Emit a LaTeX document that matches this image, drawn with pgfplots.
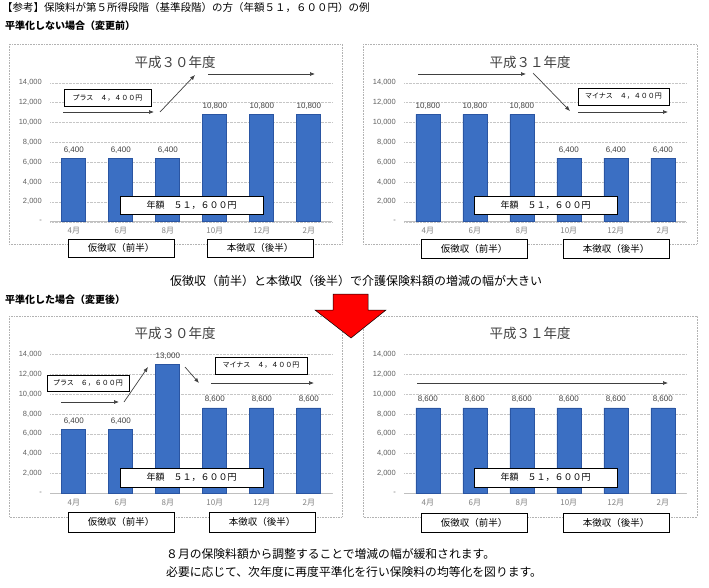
\documentclass[border=0pt]{standalone}
\usepackage{fontspec}
\setmainfont{Liberation Sans}
\newfontfamily\jp{Noto Sans CJK JP}
\usepackage{pgfplots}
\pgfplotsset{compat=1.18}
\usetikzlibrary{arrows.meta}
\definecolor{barF}{HTML}{3B6FC3}
\definecolor{barD}{HTML}{2A55A2}
\definecolor{tickc}{HTML}{606060}
\definecolor{valc}{HTML}{404040}
\definecolor{ttl}{HTML}{404040}

\pgfplotsset{panel/.style={
  scale only axis, width=282pt, height=139pt, anchor=south west,
  xmin=-0.5, xmax=5.5, ymin=0, ymax=14000,
  ybar, bar width=24pt,
  xtick={0,...,5}, xticklabels={4月,6月,8月,10月,12月,2月},
  ytick={0,2000,...,14000}, scaled y ticks=false,
  yticklabels={-,{2,000},{4,000},{6,000},{8,000},{10,000},{12,000},{14,000}},
  ymajorgrids, grid style={densely dotted, gray!45},
  major tick length=0pt,
  axis x line*=bottom, axis y line*=left,
  y axis line style={draw=none}, x axis line style={draw=gray!50, line width=0.8pt},
  xticklabel style={font=\jp\fontsize{8}{9}\selectfont, text=gray, yshift=-2pt},
  yticklabel style={font=\fontsize{7.5}{9}\selectfont, text=tickc, xshift=-5pt},
  /pgf/number format/.cd, 1000 sep={,}, assume math mode=true, /pgfplots/.cd,
  nodes near coords,
  nodes near coords style={font=\fontsize{8}{9}\selectfont, text=valc, yshift=1.5pt},
  clip=false,
}}
\tikzset{
  bx/.style={draw=black, line width=0.8pt, fill=white},
  ar/.style={-{Latex[length=5pt,width=4pt]}, line width=0.7pt, black!75},
  pb/.style={densely dotted, gray!60, line width=0.6pt},
  bars/.style={fill=barF, draw=barD, line width=0.6pt},
}
\begin{document}
\begin{tikzpicture}
\useasboundingbox (0pt,0pt) rectangle (709pt,-588pt);
\begin{scope}[x=1pt,y=-1pt]
\draw[pb] (9,44) rectangle (342,244);
\draw[pb] (363,44) rectangle (697,244);
\draw[pb] (9,316) rectangle (342,517);
\draw[pb] (363,316) rectangle (697,517);
\end{scope}

\begin{axis}[panel, at={(50.3pt,-221.7pt)}]
\addplot[bars] coordinates {(0,6400) (1,6400) (2,6400) (3,10800) (4,10800) (5,10800)};
\end{axis}
\begin{axis}[panel, at={(404.3pt,-221.7pt)}]
\addplot[bars] coordinates {(0,10800) (1,10800) (2,10800) (3,6400) (4,6400) (5,6400)};
\end{axis}
\begin{axis}[panel, at={(50.3pt,-493.3pt)}]
\addplot[bars] coordinates {(0,6400) (1,6400) (2,13000) (3,8600) (4,8600) (5,8600)};
\end{axis}
\begin{axis}[panel, at={(404.3pt,-493.3pt)}]
\addplot[bars] coordinates {(0,8600) (1,8600) (2,8600) (3,8600) (4,8600) (5,8600)};
\end{axis}

\begin{scope}[x=1pt,y=-1pt]
% header texts
\node[anchor=west, inner sep=0, font=\jp\fontsize{10.5}{12}\selectfont] at (2,8) {【参考】保険料が第５所得段階（基準段階）の方（年額５１，６００円）の例};
\node[anchor=west, inner sep=0, font=\jp\bfseries\fontsize{10}{12}\selectfont] at (5,26) {平準化しない場合（変更前）};
\node[font=\jp\fontsize{12}{14}\selectfont, inner sep=0] at (356,281) {仮徴収（前半）と本徴収（後半）で介護保険料額の増減の幅が大きい};
\node[anchor=west, inner sep=0, font=\jp\bfseries\fontsize{10}{12}\selectfont] at (5,300) {平準化した場合（変更後）};
\node[anchor=west, inner sep=0, font=\jp\fontsize{11.8}{14}\selectfont] at (166,554) {８月の保険料額から調整することで増減の幅が緩和されます。};
\node[anchor=west, inner sep=0, font=\jp\fontsize{11.8}{14}\selectfont] at (166,572) {必要に応じて、次年度に再度平準化を行い保険料の均等化を図ります。};

% panel titles
\node[font=\jp\fontsize{13.5}{15}\selectfont, text=ttl] at (175,62) {平成３０年度};
\node[font=\jp\fontsize{13.5}{15}\selectfont, text=ttl] at (530,62) {平成３１年度};
\node[font=\jp\fontsize{13.5}{15}\selectfont, text=ttl] at (175,333) {平成３０年度};
\node[font=\jp\fontsize{13.5}{15}\selectfont, text=ttl] at (530,333) {平成３１年度};

% panel 1
\draw[ar] (63,112) -- (154,112);
\draw[ar] (160,112) -- (195,75);
\draw[ar] (208,74) -- (315,74);
\draw[bx] (64,89) rectangle (151,106);
\node[font=\jp\fontsize{7}{8}\selectfont] at (107.5,97.5) {プラス　４，４００円};
\draw[bx] (120,196) rectangle (263,214);
\node[font=\jp\fontsize{9}{10}\selectfont] at (191.5,205) {年額　５１，６００円};
\draw[bx] (68,239) rectangle (174,257);
\node[font=\jp\fontsize{9.5}{10}\selectfont] at (121,248) {仮徴収（前半）};
\draw[bx] (207,239) rectangle (313,257);
\node[font=\jp\fontsize{9.5}{10}\selectfont] at (260,248) {本徴収（後半）};

% panel 2
\draw[ar] (418,74) -- (526,74);
\draw[ar] (533,73) -- (570,111);
\draw[ar] (578,112) -- (668,112);
\draw[bx] (578,88) rectangle (669,105);
\node[font=\jp\fontsize{7}{8}\selectfont] at (623.5,96.5) {マイナス　４，４００円};
\draw[bx] (474,196) rectangle (617,214);
\node[font=\jp\fontsize{9}{10}\selectfont] at (545.5,205) {年額　５１，６００円};
\draw[bx] (421,239) rectangle (527,258);
\node[font=\jp\fontsize{9.5}{10}\selectfont] at (474,248.5) {仮徴収（前半）};
\draw[bx] (563,239) rectangle (669,258);
\node[font=\jp\fontsize{9.5}{10}\selectfont] at (616,248.5) {本徴収（後半）};

% panel 3
\draw[ar] (61,402) -- (119,402);
\draw[ar] (124,402) -- (148,367);
\draw[ar] (185,367) -- (199,383);
\draw[ar] (211,383) -- (314,383);
\draw[bx] (47,375) rectangle (129,391);
\node[font=\jp\fontsize{7}{8}\selectfont] at (88,383) {プラス　６，６００円};
\draw[bx] (215,357) rectangle (307,374);
\node[font=\jp\fontsize{7}{8}\selectfont] at (261,365.5) {マイナス　４，４００円};
\draw[bx] (120,468) rectangle (263,487);
\node[font=\jp\fontsize{9}{10}\selectfont] at (191.5,477.5) {年額　５１，６００円};
\draw[bx] (68,512) rectangle (174,532);
\node[font=\jp\fontsize{9.5}{10}\selectfont] at (121,522) {仮徴収（前半）};
\draw[bx] (209,512) rectangle (315,532);
\node[font=\jp\fontsize{9.5}{10}\selectfont] at (262,522) {本徴収（後半）};

% panel 4
\draw[ar] (417,383) -- (668,383);
\draw[bx] (474,468) rectangle (617,487);
\node[font=\jp\fontsize{9}{10}\selectfont] at (545.5,477.5) {年額　５１，６００円};
\draw[bx] (421,513) rectangle (527,532);
\node[font=\jp\fontsize{9.5}{10}\selectfont] at (474,522.5) {仮徴収（前半）};
\draw[bx] (563,513) rectangle (669,532);
\node[font=\jp\fontsize{9.5}{10}\selectfont] at (616,522.5) {本徴収（後半）};

% red arrow
\draw[fill=red, draw=black, line width=0.5pt] (333,294) -- (368,294) -- (368,310) -- (386,310) -- (351,338) -- (315,310) -- (333,310) -- cycle;
\end{scope}
\end{tikzpicture}
\end{document}
